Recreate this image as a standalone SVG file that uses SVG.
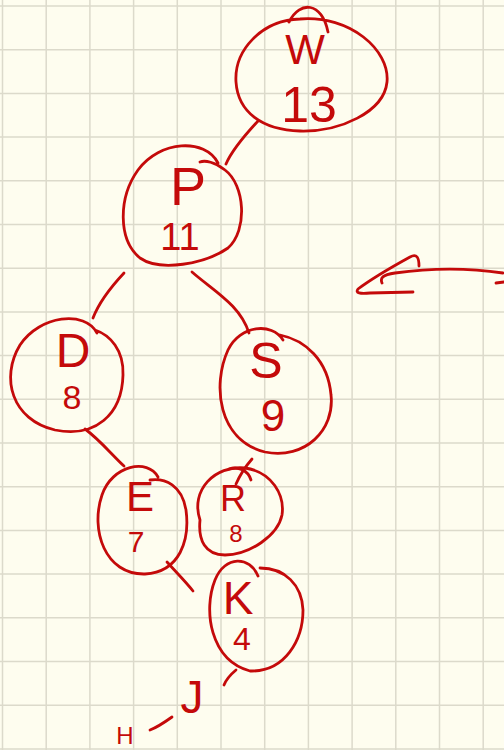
<svg xmlns="http://www.w3.org/2000/svg" width="504" height="750" viewBox="0 0 504 750">
<style>
.ink{fill:none;stroke:#c40a0a;stroke-width:2.8;stroke-linecap:round;stroke-linejoin:round}
.grid{fill:none;stroke:#dcdacb;stroke-width:1.5}
.t{fill:#c40a0a;font-family:"Liberation Sans","DejaVu Sans",sans-serif;text-anchor:middle}
</style>
<rect width="504" height="750" fill="#fefdef"/>
<path class="grid" d="M2.5 0V750M46.2 0V750M89.9 0V750M133.6 0V750M177.3 0V750M221 0V750M264.7 0V750M308.4 0V750M352.1 0V750M395.8 0V750M439.5 0V750M483.2 0V750M0 6H504M0 49.7H504M0 93.4H504M0 137.1H504M0 180.8H504M0 224.5H504M0 268.2H504M0 311.9H504M0 355.6H504M0 399.3H504M0 443H504M0 486.7H504M0 530.4H504M0 574.1H504M0 617.8H504M0 661.5H504M0 705.2H504M0 748.9H504"/>
<g id="connectors">
<path class="ink" d="M258 121C245 135 232 150 226 164"/>
<path class="ink" d="M124 273C110 288 98 305 93 318"/>
<path class="ink" d="M192 272C215 292 240 305 249 333"/>
<path class="ink" d="M85 429C100 440 112 455 124 466"/>
<path class="ink" d="M252 459C245 467 240 475 236 484M229 469C238 466 248 470 251 480"/>
<path class="ink" d="M167 562C176 572 186 582 193 591"/>
<path class="ink" d="M236 670C230 675 226 680 224 685"/>
<path class="ink" d="M150 730C158 727 165 722 172 717"/>
</g>
<g id="node-W">
<path class="ink" d="M300 19C350 15 390 50 387 82C384 112 340 132 300 131C262 130 238 112 236 82C234 50 262 20 300 19ZM289 22C300 0 322 2 328 32"/>
<text class="t" x="305" y="64" font-size="42">W</text>
<text class="t" x="309" y="122" font-size="50">13</text>
</g>
<g id="node-P">
<path class="ink" d="M218 163C205 138 160 140 138 170C118 198 118 240 140 258C160 272 205 264 228 248C248 230 245 185 225 170C215 162 205 160 200 162"/>
<text class="t" x="188" y="205" font-size="54">P</text>
<text class="t" x="180" y="250" font-size="38">11</text>
</g>
<g id="node-D">
<path class="ink" d="M97 333C85 310 40 315 20 345C0 378 12 420 55 430C95 438 122 415 123 375C124 350 110 335 95 330"/>
<text class="t" x="73" y="367" font-size="48">D</text>
<text class="t" x="72" y="409" font-size="34">8</text>
</g>
<g id="node-S">
<path class="ink" d="M283 340C272 322 240 325 228 350C212 385 218 440 265 452C305 460 335 430 331 395C328 360 305 340 280 335"/>
<text class="t" x="266" y="378" font-size="50">S</text>
<text class="t" x="273" y="431" font-size="44">9</text>
</g>
<g id="node-E">
<path class="ink" d="M158 477C148 458 112 465 102 495C90 530 105 575 145 574C180 572 190 540 186 510C182 485 165 478 150 480"/>
<text class="t" x="140" y="511" font-size="42">E</text>
<text class="t" x="136" y="552" font-size="30">7</text>
</g>
<g id="node-R">
<path class="ink" d="M200 520C190 490 215 465 245 468C272 472 285 495 282 515C278 535 250 555 225 555C205 555 198 540 200 520Z"/>
<text class="t" x="233" y="511" font-size="36">R</text>
<text class="t" x="236" y="542" font-size="24">8</text>
</g>
<g id="node-K">
<path class="ink" d="M258 576C250 556 225 555 215 580C203 610 210 660 250 671C285 672 303 640 303 610C302 585 285 568 260 568"/>
<text class="t" x="238" y="614" font-size="46">K</text>
<text class="t" x="242" y="650" font-size="32">4</text>
</g>
<g id="node-J">
<text class="t" x="192" y="713" font-size="46">J</text>
</g>
<g id="node-H">
<text class="t" x="125" y="744" font-size="24">H</text>
</g>
<g id="arrow-mark">
<path class="ink" d="M419 266C419 258 417 253 410 257C390 268 370 280 358 289C355 293 360 294 370 293L413 292M382 283C380 278 382 275 395 273C430 268 470 268 503 273M496 283L504 282"/>
</g>
</svg>
